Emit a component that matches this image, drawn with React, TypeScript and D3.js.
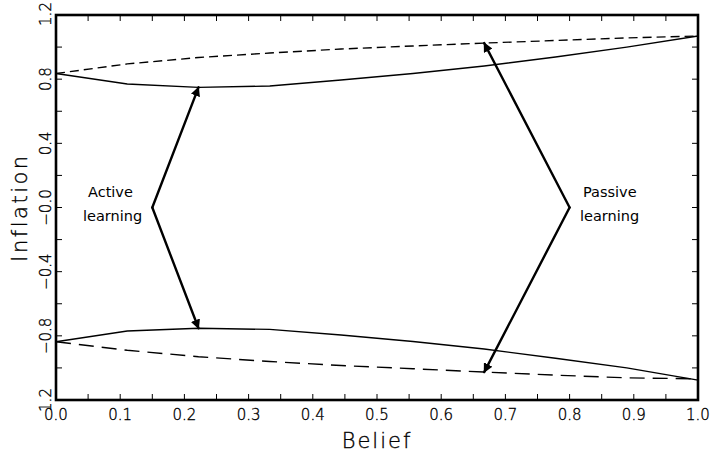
import React, { useEffect, useRef } from 'react'
import * as d3 from 'd3'

// belief grid (x) and the four policy curves
const beliefs = [0, 0.111, 0.222, 0.333, 0.444, 0.556, 0.667, 0.778, 0.889, 1.0]
const activeUpper = [0.835, 0.77, 0.749, 0.757, 0.795, 0.835, 0.882, 0.938, 1.0, 1.069]
const passiveUpper = [0.835, 0.895, 0.935, 0.963, 0.988, 1.007, 1.025, 1.041, 1.057, 1.069]
const activeLower = [-0.837, -0.77, -0.753, -0.76, -0.795, -0.835, -0.882, -0.94, -1.0, -1.076]
const passiveLower = [-0.837, -0.89, -0.93, -0.96, -0.985, -1.005, -1.026, -1.045, -1.062, -1.068]

const xTickLabels = ['0.0', '0.1', '0.2', '0.3', '0.4', '0.5', '0.6', '0.7', '0.8', '0.9', '1.0']
const yTickValues = [1.2, 0.8, 0.4, 0.0, -0.4, -0.8, -1.2]
const yTickLabels = ['1.2', '0.8', '0.4', '\u22120.0', '\u22120.4', '\u22120.8', '1.2']

// annotation arrows: [vertex, tip1, tip2] in data units
const activeArrow = [[0.15, 0.0], [0.222, 0.749], [0.222, -0.753]]
const passiveArrow = [[0.8, 0.0], [0.667, 1.025], [0.667, -1.026]]

const font = "'DejaVu Sans', sans-serif"

function Chart() {
    const ref = useRef<SVGSVGElement>(null)

    useEffect(() => {
        const svg = d3.select(ref.current)
        svg.selectAll('*').remove()

        const left = 56, right = 698, top = 15, bottom = 400
        const x = d3.scaleLinear().domain([0, 1]).range([left, right])
        const y = d3.scaleLinear().domain([-1.2, 1.2]).range([bottom, top])

        svg.append('defs').append('marker')
            .attr('id', 'head')
            .attr('viewBox', '0 0 10 10')
            .attr('refX', 9).attr('refY', 5)
            .attr('markerWidth', 4).attr('markerHeight', 4)
            .attr('markerUnits', 'strokeWidth')
            .attr('orient', 'auto')
            .append('path').attr('d', 'M0,0 L10,5 L0,10 Z').attr('fill', '#000')

        const line = d3.line<number>()
            .x((d, i) => x(beliefs[i]))
            .y(d => y(d))

        const curves: [number[], string | null][] = [
            [activeUpper, null],
            [passiveUpper, '9,5'],
            [activeLower, null],
            [passiveLower, '15,8'],
        ]
        curves.forEach(([vals, dash]) => {
            svg.append('path')
                .datum(vals)
                .attr('d', line)
                .attr('fill', 'none')
                .attr('stroke', '#000')
                .attr('stroke-width', 1.4)
                .attr('stroke-dasharray', dash)
        })

        // arrows
        ;[activeArrow, passiveArrow].forEach(a => {
            const [v, t1, t2] = a
            ;[t1, t2].forEach(t => {
                svg.append('line')
                    .attr('x1', x(v[0])).attr('y1', y(v[1]))
                    .attr('x2', x(t[0])).attr('y2', y(t[1]))
                    .attr('stroke', '#000')
                    .attr('stroke-width', 2.4)
                    .attr('stroke-linecap', 'round')
                    .attr('marker-end', 'url(#head)')
            })
        })

        // ticks (inside, all four sides)
        const tickLen = 6
        const xTicks = d3.range(0, 21).map(i => i / 20)
        xTicks.forEach(t => {
            svg.append('line').attr('x1', x(t)).attr('x2', x(t))
                .attr('y1', bottom).attr('y2', bottom - tickLen)
                .attr('stroke', '#000').attr('stroke-width', 1)
            svg.append('line').attr('x1', x(t)).attr('x2', x(t))
                .attr('y1', top).attr('y2', top + tickLen)
                .attr('stroke', '#000').attr('stroke-width', 1)
        })
        const yTicks = d3.range(0, 13).map(i => -1.2 + i * 0.2)
        yTicks.forEach(t => {
            svg.append('line').attr('y1', y(t)).attr('y2', y(t))
                .attr('x1', left).attr('x2', left + tickLen)
                .attr('stroke', '#000').attr('stroke-width', 1)
            svg.append('line').attr('y1', y(t)).attr('y2', y(t))
                .attr('x1', right).attr('x2', right - tickLen)
                .attr('stroke', '#000').attr('stroke-width', 1)
        })

        svg.append('rect')
            .attr('x', left).attr('y', top)
            .attr('width', right - left).attr('height', bottom - top)
            .attr('fill', 'none').attr('stroke', '#000').attr('stroke-width', 2.6)

        // thin, Hershey-like axis text
        const thin = (sel: any, size: number) => sel
            .attr('font-family', font).attr('font-size', size).attr('font-weight', 200)
            .attr('fill', '#000').attr('stroke', '#000').attr('stroke-width', 0.35)

        xTickLabels.forEach((lab, i) => {
            thin(svg.append('text'), 15)
                .attr('x', x(i / 10)).attr('y', 420)
                .attr('text-anchor', 'middle')
                .text(lab)
        })
        yTickValues.forEach((v, i) => {
            const ty = i === 0 ? y(v) - 1 : y(v)
            thin(svg.append('text'), 15)
                .attr('transform', `translate(51,${ty}) rotate(-90)`)
                .attr('text-anchor', 'middle')
                .text(yTickLabels[i])
        })

        thin(svg.append('text'), 21)
            .attr('x', (left + right) / 2).attr('y', 448)
            .attr('text-anchor', 'middle')
            .attr('letter-spacing', 2)
            .text('Belief')
        thin(svg.append('text'), 21)
            .attr('transform', `translate(27,${(top + bottom) / 2}) rotate(-90)`)
            .attr('text-anchor', 'middle')
            .attr('letter-spacing', 2.5)
            .text('Inflation')

        // annotation labels
        const notes: [string, string, number, number][] = [
            ['Active', 'learning', 88, 83],
            ['Passive', 'learning', 583, 580],
        ]
        notes.forEach(([a, b, xa, xb]) => {
            svg.append('text').attr('x', xa).attr('y', 197)
                .attr('font-family', font).attr('font-size', 14.5).attr('fill', '#000')
                .text(a)
            svg.append('text').attr('x', xb).attr('y', 221)
                .attr('font-family', font).attr('font-size', 14.5).attr('fill', '#000')
                .text(b)
        })
    }, [])

    return <svg ref={ref} width={711} height={457}
        style={{ position: 'absolute', left: 0, top: 0, background: '#fff' }} />
}

export default function App() {
    return <Chart />
}
